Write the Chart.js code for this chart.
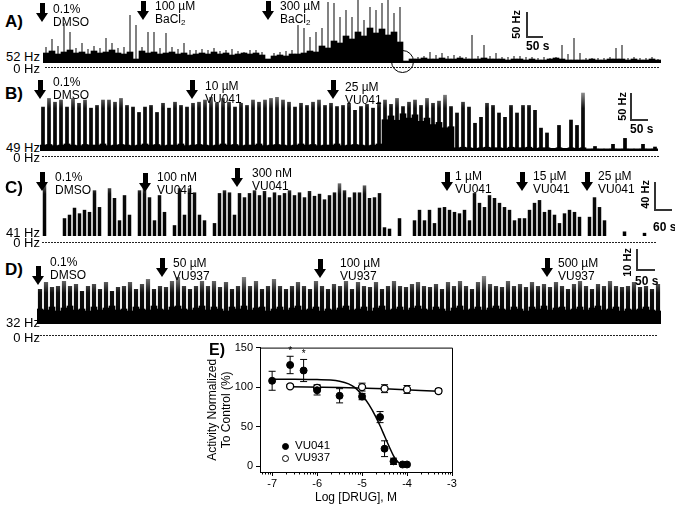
<!DOCTYPE html>
<html>
<head>
<meta charset="utf-8">
<script src="https://cdn.jsdelivr.net/npm/chart.js@4.4.1/dist/chart.umd.min.js"></script>
<style>
  html, body { margin: 0; padding: 0; background: #fff; }
  #fig { position: relative; width: 675px; height: 505px; overflow: hidden;
         font-family: Arial, "Liberation Sans", sans-serif; color: #000; }
  #fig canvas { position: absolute; }
  .t { position: absolute; font-size: 12px; line-height: 13px; white-space: nowrap; }
  .t sub { font-size: 8px; line-height: 0; vertical-align: -2px; }
  .p { position: absolute; font-size: 17px; font-weight: bold; line-height: 17px; }
  .hz { position: absolute; left: 0; width: 40px; text-align: right; font-size: 13px; line-height: 13px; }
  .zero { position: absolute; height: 1px;
          background: repeating-linear-gradient(to right, #222 0 2px, transparent 2px 3px); }
  .arr { position: absolute; width: 12px; height: 19px; margin-left: -6px; }
  .arr::before { content: ""; position: absolute; left: 3.5px; top: 0; width: 5px; height: 11px; background: #000; }
  .arr::after { content: ""; position: absolute; left: 0; top: 10px; border-left: 6px solid transparent;
                border-right: 6px solid transparent; border-top: 9px solid #000; }
  .sb { position: absolute; background: #333; }
  .sbt { position: absolute; font-size: 12px; font-weight: bold; line-height: 12px; white-space: nowrap; }
  .sbv { position: absolute; font-size: 11px; font-weight: bold; line-height: 11px; white-space: nowrap;
         writing-mode: vertical-rl; transform: rotate(180deg); }
  .dot { position: absolute; width: 7px; height: 7px; border-radius: 50%; margin: -3.5px 0 0 -3.5px;
         box-sizing: border-box; border: 1.3px solid #000; }
  .lg { position: absolute; font-size: 11.5px; line-height: 13px; }
</style>
</head>
<body>
<div id="fig">
  <!-- A -->
  <canvas id="trA" width="618" height="63" style="left:43px;top:0px"></canvas>
  <div class="p" style="left:5px;top:13px">A)</div>
  <div class="arr" style="left:42px;top:3px"></div>
  <div class="t" style="left:53px;top:3px">0.1%<br>DMSO</div>
  <div class="arr" style="left:143px;top:1px"></div>
  <div class="t" style="left:155px;top:0px">100 µM<br>BaCl<sub>2</sub></div>
  <div class="arr" style="left:268px;top:1px"></div>
  <div class="t" style="left:280px;top:0px">300 µM<br>BaCl<sub>2</sub></div>
  <div class="hz" style="top:50px">52 Hz</div>
  <div class="hz" style="top:62px">0 Hz</div>
  <div class="zero" style="left:45px;top:67px;width:615px"></div>
  <div class="sb" style="left:526px;top:12px;width:1.5px;height:25px"></div>
  <div class="sb" style="left:526px;top:36px;width:17px;height:1.5px"></div>
  <div class="sbv" style="left:511px;top:10px">50 Hz</div>
  <div class="sbt" style="left:526px;top:40px">50 s</div>
  <div style="position:absolute;left:391px;top:50px;width:21px;height:21px;border:1px solid #000;border-radius:50%"></div>

  <!-- B -->
  <canvas id="trB" width="618" height="61" style="left:40px;top:90px"></canvas>
  <div class="p" style="left:5px;top:85px">B)</div>
  <div class="arr" style="left:40px;top:80px"></div>
  <div class="t" style="left:53px;top:76px">0.1%<br>DMSO</div>
  <div class="arr" style="left:192px;top:80px"></div>
  <div class="t" style="left:205px;top:80px">10 µM<br>VU041</div>
  <div class="arr" style="left:333px;top:80px"></div>
  <div class="t" style="left:345px;top:81px">25 µM<br>VU041</div>
  <div class="hz" style="top:141px">49 Hz</div>
  <div class="hz" style="top:151px">0 Hz</div>
  <div class="zero" style="left:42px;top:156px;width:618px"></div>
  <div class="sb" style="left:630px;top:93px;width:1.5px;height:27px"></div>
  <div class="sb" style="left:630px;top:119px;width:18px;height:1.5px"></div>
  <div class="sbv" style="left:617px;top:92px">50 Hz</div>
  <div class="sbt" style="left:630px;top:123px">50 s</div>

  <!-- C -->
  <canvas id="trC" width="620" height="60" style="left:42px;top:176px"></canvas>
  <div class="p" style="left:5px;top:179px">C)</div>
  <div class="arr" style="left:42px;top:172px"></div>
  <div class="t" style="left:55px;top:171px">0.1%<br>DMSO</div>
  <div class="arr" style="left:145px;top:173px"></div>
  <div class="t" style="left:157px;top:171px">100 nM<br>VU041</div>
  <div class="arr" style="left:237px;top:168px"></div>
  <div class="t" style="left:252px;top:167px">300 nM<br>VU041</div>
  <div class="arr" style="left:447px;top:172px"></div>
  <div class="t" style="left:455px;top:170px">1 µM<br>VU041</div>
  <div class="arr" style="left:522px;top:172px"></div>
  <div class="t" style="left:533px;top:170px">15 µM<br>VU041</div>
  <div class="arr" style="left:587px;top:172px"></div>
  <div class="t" style="left:598px;top:170px">25 µM<br>VU041</div>
  <div class="hz" style="top:226px">41 Hz</div>
  <div class="hz" style="top:236px">0 Hz</div>
  <div class="zero" style="left:42px;top:242px;width:615px"></div>
  <div class="sb" style="left:654px;top:182px;width:1.5px;height:28px"></div>
  <div class="sb" style="left:654px;top:209px;width:18px;height:1.5px"></div>
  <div class="sbv" style="left:640px;top:180px">40 Hz</div>
  <div class="sbt" style="left:653px;top:221px">60 s</div>

  <!-- D -->
  <canvas id="trD" width="624" height="48" style="left:37px;top:276px"></canvas>
  <div class="p" style="left:5px;top:261px">D)</div>
  <div class="arr" style="left:38px;top:266px"></div>
  <div class="t" style="left:50px;top:256px">0.1%<br>DMSO</div>
  <div class="arr" style="left:162px;top:258px"></div>
  <div class="t" style="left:173px;top:257px">50 µM<br>VU937</div>
  <div class="arr" style="left:320px;top:259px"></div>
  <div class="t" style="left:340px;top:257px">100 µM<br>VU937</div>
  <div class="arr" style="left:547px;top:258px"></div>
  <div class="t" style="left:558px;top:257px">500 µM<br>VU937</div>
  <div class="hz" style="top:316px">32 Hz</div>
  <div class="hz" style="top:331px">0 Hz</div>
  <div class="zero" style="left:40px;top:335px;width:617px"></div>
  <div class="sb" style="left:636px;top:249px;width:1.5px;height:21px"></div>
  <div class="sb" style="left:636px;top:269px;width:19px;height:1.5px"></div>
  <div class="sbv" style="left:622px;top:248px">10 Hz</div>
  <div class="sbt" style="left:635px;top:275px">50 s</div>

  <!-- E -->
  <canvas id="doseE" width="262" height="167" style="left:200px;top:338px"></canvas>
  <div class="p" style="left:209px;top:341px;font-size:16px">E)</div>
  <div class="dot" style="left:285px;top:446px;background:#000"></div>
  <div class="lg" style="left:295px;top:439px">VU041</div>
  <div class="dot" style="left:285px;top:458px;background:#fff"></div>
  <div class="lg" style="left:295px;top:451px">VU937</div>
</div>

<script>
// ---- trace A: BaCl2 (Hz, one bin per ~6 px of record) ----
const traceAPeaks = [82, 98, 84, 130, 112, 80, 90, 78, 84, 80, 100, 90, 80, 82, 146, 126, 82, 112, 112, 80,
  110, 82, 78, 90, 76, 76, 78, 76, 80, 74, 76, 78, 74, 72, 76, 76, 72, null, 70, 72,
  74, 76, 126, 120, 102, 112, 120, 172, 170, 142, 156, 142, 176, 136, 162, 156, 170, 176, 150, 162,
  null, null, 62, 64, 72, 66, 70, 64, 66, 64, 62, 106, 64, 86, 64, 70, 62, 62, 64, 64,
  62, 62, 60, 62, 60, 62, 86, 68, 100, 70, 60, 60, 60, 60, 62, 80, 86, 60, 62, 60,
  60, 62, 58];
const traceABody = [70, 74, 68, 72, 76, 70, 72, 68, 74, 70, 72, 76, 70, 68, 72, 58, 74, 70, 72, 68,
  70, 72, 68, 70, 66, 68, 70, 68, 72, 68, 70, 66, 68, 70, 68, 70, 66, 58, 64, 66,
  64, 68, 68, 70, 74, 72, 84, 80, 94, 90, 104, 98, 112, 104, 120, 110, 118, 106, 112, 92,
  54, 58, 58, 60, 58, 58, 60, 58, 58, 60, 58, 58, 58, 60, 58, 58, 58, 56, 58, 58,
  56, 58, 56, 56, 58, 60, 58, 56, 56, 56, 56, 58, 56, 56, 58, 58, 58, 56, 58, 56,
  56, 58, 56];

// ---- trace B: VU041 10/25 µM ----
const traceBPeaks = [129, 145, 138, 142, 129, 145, 136, 142, 127, 132, 142, 142, 138, 145, 132, 129, 119, 129, 132, 119,
  136, 127, 138, 132, 129, 136, 138, 142, 147, 136, 145, 138, 129, 136, 132, 142, 138, 142, 145, 147,
  142, 138, 129, 136, 132, 138, 142, 132, 136, 130, 132, 136, 123, 130, 134, 127, 138, 142, 134, 145,
  130, 138, 142, 132, 145, 136, 140, 151, 130, 118, 138, 129, 99, 110, 136, 132, 118, 110, 132, 118,
  132, 132, 123, 90, 81, null, 95, null, 105, 95, 155, null, 56, null, null, 60, null, 71, null, null,
  60, null, 55];
const traceBBody = [58, 59, 57, 58, 60, 58, 57, 59, 58, 58, 60, 57, 58, 59, 58, 57, 58, 60, 58, 59,
  57, 58, 58, 60, 57, 58, 59, 58, 57, 58, 60, 58, 59, 57, 58, 58, 60, 57, 58, 59,
  58, 57, 58, 60, 58, 59, 57, 58, 58, 60, 57, 58, 59, 58, 57, 58, 60, 105, 112, 104,
  116, 108, 114, 102, 108, 96, 100, 90, 92, 53, 54, 53, 52, 53, 54, 53, 53, 52, 54, 53,
  53, 54, 52, 53, 53, 52, 53, 52, 53, 52, 53, 51, 51, 51, 51, 51, 51, 51, 51, 51,
  51, 51, 51];

// ---- trace C: VU041 dose steps (~5 px bins) ----
const traceCPeaks = [117, null, null, null, 65, 70, 80, 72, 77, 74, 105, 81, null, 108, 94, 62, 98, 70, null, 105,
  117, 95, 62, 98, 74, null, 55, 108, 70, 108, 102, 70, 62, null, 58, 101, 105, 102, 70, 101,
  95, 101, 105, 98, 104, 95, 102, 98, 101, 105, 98, 102, 95, 104, 97, 100, 92, 98, 102, 115,
  105, 95, 102, 102, 112, 94, 95, 101, 52, 50, null, 65, null, null, 62, 77, 62, 77, 58, 80,
  81, 77, 74, 72, 77, 62, 101, 87, 81, 98, 94, 87, 81, 77, 62, 65, 65, 77, 87, 91,
  74, 77, 70, 58, 72, 77, 74, 67, null, 67, 95, 81, 62, null, null, null, 46, null, null, null,
  44, null, null, null];

// ---- trace D: VU937 (~6 px bins) ----
const traceDPeaks = [49, 52.5, 50, 50.5, 53, 50.5, 51.5, 48, 50.5, 51.5, 49, 52.5, 48, 50, 50.5, 52.5, 49, 51.5, 54, 49,
  50.5, 50, 53, 55, 50.5, 49, 50.5, 53, 50.5, 53, 50, 52.5, 49, 50.5, 55, 50.5, 53, 49, 50.5, 54,
  50.5, 49, 50.5, 52.5, 50.5, 49, 53, 50.5, 49, 51.5, 50.5, 53, 49, 52.5, 50.5, 50, 52.5, 49, 50.5, 53,
  50.5, 50, 51.5, 52.5, 50.5, 50, 51.5, 49, 52.5, 50.5, 53, 50.5, 49, 52.5, 55.5, 51.5, 50.5, 50, 53, 50.5,
  51.5, 50, 52.5, 50.5, 51.5, 50, 52.5, 50.5, 49, 51.5, 53, 50.5, 49, 51.5, 50.5, 53, 50.5, 50, 50.5, 52.5,
  50, 50.5, 49, 51.5];
const traceDBody = [39, 38.5, 40, 38, 39.5, 40.5, 38.5, 39, 38, 40, 38.5, 39.5, 40.5, 38.5, 39, 38, 40, 39, 38.5, 40.5,
  39, 38.5, 40, 40.5, 39, 38.5, 39.5, 40.5, 38.5, 40, 39, 38, 40, 39, 40.5, 38.5, 39.5, 40, 38, 39,
  40, 38.5, 39.5, 40.5, 38.5, 39, 40, 38, 39, 38.5, 39.5, 40.5, 38.5, 39, 40, 38, 39.5, 40.5, 38.5, 39,
  40, 38.5, 39.5, 40.5, 39, 38.5, 40, 39, 38, 39.5, 40.5, 38.5, 39, 40, 38.5, 39.5, 40.5, 39, 38.5, 40,
  39, 38, 40, 39, 40.5, 38.5, 39.5, 40, 38.5, 39, 40, 38.5, 39.5, 40.5, 38.5, 39, 40, 38, 39, 38.5,
  39, 40, 38.5, 38];

// ---- panel E: concentration-response ----
const vu041LogM = [-7, -6.6, -6.3, -6, -5.5, -5, -4.6, -4.5, -4.3, -4.1, -4];
const vu041Pct  = [108, 128, 121, 96, 89, 88, 62, 22, 6, 2, 2];
const vu041Sem  = [12, 11, 14, 6, 9, 4, 7, 10, 4, 0, 0];
const vu041Sig  = [false, true, true, false, false, false, false, false, false, false, false];
const vu937LogM = [-6.6, -6, -5, -4.5, -4, -3.3];
const vu937Pct  = [101, 99, 100, 98, 97, 95];
const vu937Sem  = [2, 4, 5, 5, 5, 3];
const vu041FitLogM = [-7, -6.5, -6, -5.7, -5.5, -5.3, -5.15, -5, -4.85, -4.7, -4.6, -4.5, -4.4, -4.3, -4.2, -4.1, -4];
const vu041FitPct  = [110, 110, 109.5, 109, 107.5, 104, 99, 90, 78, 63, 51, 38, 25, 13, 5, 1.5, 0.5];
const vu937FitLogM = [-6.6, -5.5, -4.5, -3.3];
const vu937FitPct  = [100.3, 99.5, 97.8, 94.6];
const logTicks = [-7, -6, -5, -4, -3];

Chart.defaults.font.family = 'Arial, "Liberation Sans", sans-serif';
Chart.defaults.color = '#000';

// black over most of each spike, fading to grey at the tip
function spikeFill(chart, tipAlpha, solidTo) {
  const a = chart.chartArea;
  if (!a) return '#000';
  const g = chart.ctx.createLinearGradient(0, a.bottom, 0, a.top);
  g.addColorStop(0, 'rgba(0,0,0,1)');
  g.addColorStop(solidTo, 'rgba(0,0,0,0.95)');
  g.addColorStop(1, `rgba(0,0,0,${tipAlpha})`);
  return g;
}

function traceChart(id, peaks, body, yMin, yMax, look) {
  const datasets = [];
  if (body) {
    datasets.push({ data: body, backgroundColor: '#000', barPercentage: 1, categoryPercentage: 1, clip: 0 });
  }
  datasets.push({
    data: peaks,
    backgroundColor: look.flat || (c => spikeFill(c.chart, look.tip, look.solid)),
    barPercentage: look.bar, categoryPercentage: 1, clip: 0,
  });
  return new Chart(document.getElementById(id), {
    type: 'bar',
    data: { labels: peaks.map((_, i) => i), datasets },
    options: {
      responsive: false, animation: false, events: [],
      layout: { padding: 0 },
      datasets: { bar: { grouped: false, skipNull: true, borderWidth: 0 } },
      plugins: { legend: { display: false }, tooltip: { enabled: false } },
      scales: {
        x: { grid: { display: false, drawTicks: false }, ticks: { display: false },
             border: { display: true, color: look.line, width: 1 } },
        y: { display: false, min: yMin, max: yMax },
      },
    },
  });
}

traceChart('trA', traceAPeaks, traceABody, 50, 176, { flat: 'rgba(0,0,0,0.55)', bar: 0.3, line: '#000' });
traceChart('trB', traceBPeaks, traceBBody, 47, 160, { tip: 0.35, solid: 0.7, bar: 0.62, line: '#666' });
traceChart('trC', traceCPeaks, null, 39.5, 125.5, { tip: 0.3, solid: 0.7, bar: 0.7, line: '#777' });
traceChart('trD', traceDPeaks, traceDBody, 31.5, 55.5, { tip: 0.45, solid: 0.65, bar: 0.7, line: '#000' });

// ---- panel E ----
const pts = (xs, ys) => xs.map((v, i) => ({ x: v, y: ys[i] }));

const doseExtras = {
  id: 'doseExtras',
  beforeDatasetsDraw(chart) {
    const { ctx, scales: { x, y } } = chart;
    ctx.save();
    ctx.strokeStyle = '#000';
    ctx.lineWidth = 1;
    const bars = (xs, ys, es) => xs.forEach((v, i) => {
      if (!es[i]) return;
      const px = x.getPixelForValue(v);
      const t = y.getPixelForValue(ys[i] + es[i]);
      const b = y.getPixelForValue(ys[i] - es[i]);
      ctx.beginPath();
      ctx.moveTo(px, t); ctx.lineTo(px, b);
      ctx.moveTo(px - 3.5, t); ctx.lineTo(px + 3.5, t);
      ctx.moveTo(px - 3.5, b); ctx.lineTo(px + 3.5, b);
      ctx.stroke();
    });
    bars(vu041LogM, vu041Pct, vu041Sem);
    bars(vu937LogM, vu937Pct, vu937Sem);
    ctx.restore();
  },
  afterDraw(chart) {
    const { ctx, chartArea: a, scales: { x, y } } = chart;
    ctx.save();
    ctx.strokeStyle = '#000';
    ctx.lineWidth = 1;
    // top and right frame
    ctx.beginPath();
    ctx.moveTo(a.left, a.top + 0.5); ctx.lineTo(a.right + 0.5, a.top + 0.5); ctx.lineTo(a.right + 0.5, a.bottom);
    ctx.stroke();
    // log minor ticks
    ctx.beginPath();
    for (let d = -8; d <= -4; d++) {
      for (let k = 2; k <= 9; k++) {
        const v = d + Math.log10(k);
        if (v < x.min || v > x.max) continue;
        const px = Math.round(x.getPixelForValue(v)) + 0.5;
        ctx.moveTo(px, a.bottom); ctx.lineTo(px, a.bottom + 2.5);
      }
    }
    ctx.stroke();
    // significance marks
    ctx.fillStyle = '#000';
    ctx.font = '10px Arial, "Liberation Sans", sans-serif';
    ctx.textAlign = 'center';
    vu041LogM.forEach((v, i) => {
      if (!vu041Sig[i]) return;
      ctx.fillText('*', x.getPixelForValue(v), y.getPixelForValue(vu041Pct[i] + vu041Sem[i]) - 2);
    });
    ctx.restore();
  },
};

new Chart(document.getElementById('doseE'), {
  type: 'scatter',
  data: {
    datasets: [
      { label: 'VU041', data: pts(vu041LogM, vu041Pct), pointRadius: 3.5,
        backgroundColor: '#000', borderColor: '#000', borderWidth: 1 },
      { label: 'VU937', data: pts(vu937LogM, vu937Pct), pointRadius: 3.5,
        backgroundColor: '#fff', borderColor: '#000', borderWidth: 1.3 },
      { data: pts(vu041FitLogM, vu041FitPct), showLine: true, pointRadius: 0,
        borderColor: '#000', borderWidth: 1.5, cubicInterpolationMode: 'monotone' },
      { data: pts(vu937FitLogM, vu937FitPct), showLine: true, pointRadius: 0,
        borderColor: '#000', borderWidth: 1.5, cubicInterpolationMode: 'monotone' },
    ],
  },
  options: {
    responsive: false, animation: false, events: [],
    layout: { padding: { top: 8, right: 10 } },
    plugins: { legend: { display: false }, tooltip: { enabled: false } },
    scales: {
      x: {
        type: 'linear', min: -7.27, max: -3,
        afterFit: s => { s.height = 33; },
        afterBuildTicks: s => { s.ticks = logTicks.map(v => ({ value: v })); },
        ticks: { font: { size: 11 }, padding: 1, callback: v => String(v) },
        grid: { drawOnChartArea: false, color: '#000', tickLength: 4 },
        border: { color: '#000', width: 1 },
        title: { display: true, text: 'Log [DRUG], M', font: { size: 12 }, padding: 0 },
      },
      y: {
        min: -7.5, max: 150,
        afterFit: s => { s.width = 60; },
        ticks: { stepSize: 50, includeBounds: false, font: { size: 11 }, padding: 3 },
        grid: { drawOnChartArea: false, color: '#000', tickLength: 4 },
        border: { color: '#000', width: 1 },
        title: { display: true, text: ['Activity Normalized', 'To Control (%)'], font: { size: 12 },
                 padding: { top: 5, bottom: 0 } },
      },
    },
  },
  plugins: [doseExtras],
});
</script>
</body>
</html>
